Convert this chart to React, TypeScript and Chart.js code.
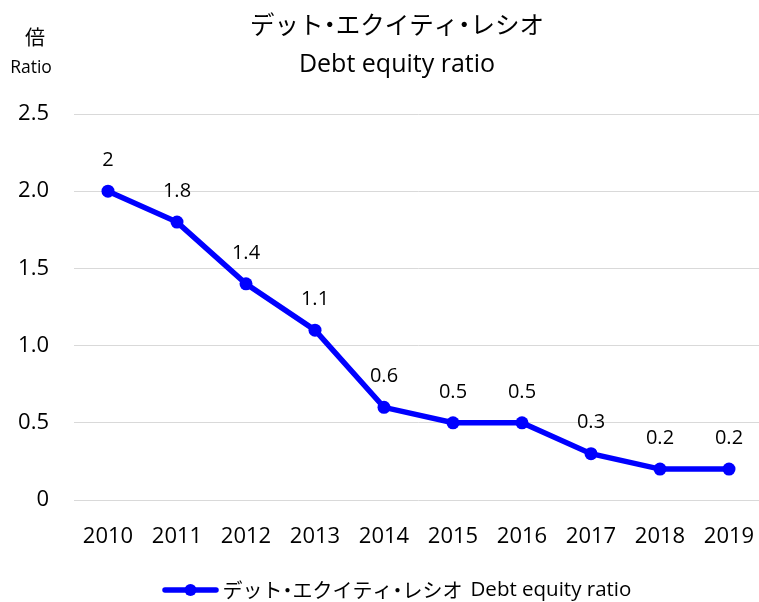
import React, { useEffect, useRef } from "react";
import { Chart, registerables } from "chart.js";

Chart.register(...registerables);

// ---- data ----
const years = ["2010", "2011", "2012", "2013", "2014", "2015", "2016", "2017", "2018", "2019"];
const ratios = [2, 1.8, 1.4, 1.1, 0.6, 0.5, 0.5, 0.3, 0.2, 0.2];
const titleJa = "デット・エクイティ・レシオ";
const titleEn = "Debt equity ratio";
const unitJa = "倍";
const unitEn = "Ratio";
const yMin = 0;
const yMax = 2.5;
const yStep = 0.5;

// ---- style ----
const W = 794;
const H = 602;
const LATIN = "'Open Sans', 'Noto Sans CJK JP', sans-serif";
const CJK = "'Noto Sans CJK JP', sans-serif";
const BLUE = "#0000FF";

// draw Japanese text with narrow (proportional) middle dots; returns width
function drawJa(ctx: CanvasRenderingContext2D, text: string, x: number, y: number, size: number, align: "left" | "center") {
  ctx.font = `${size}px ${CJK}`;
  const chars = Array.from(text);
  const advs = chars.map((ch) => (ch === "・" ? size * 0.5 : ctx.measureText(ch).width));
  const total = advs.reduce((a, b) => a + b, 0);
  let cx = align === "center" ? x - total / 2 : x;
  ctx.textAlign = "left";
  chars.forEach((ch, i) => {
    const w = ctx.measureText(ch).width;
    ctx.fillText(ch, cx + (advs[i] - w) / 2, y);
    cx += advs[i];
  });
  return total;
}

const textPlugin = {
  id: "customTexts",
  afterDatasetsDraw(chart: any) {
    const ctx = chart.ctx;
    const meta = chart.getDatasetMeta(0);
    ctx.save();
    ctx.fillStyle = "#000";
    ctx.font = `20px ${LATIN}`;
    ctx.textAlign = "center";
    ctx.textBaseline = "middle";
    meta.data.forEach((el: any, i: number) => {
      ctx.fillText(String(ratios[i]), el.x, el.y - 31);
    });
    ctx.restore();
  },
  afterDraw(chart: any) {
    const ctx: CanvasRenderingContext2D = chart.ctx;
    ctx.save();
    ctx.fillStyle = "#000";
    // title
    ctx.textBaseline = "middle";
    drawJa(ctx, titleJa, 397, 25, 24.5, "center");
    // subtitle
    ctx.textAlign = "center";
    ctx.textBaseline = "alphabetic";
    ctx.font = `25px ${LATIN}`;
    ctx.fillText(titleEn, 397, 72);
    // unit
    ctx.textBaseline = "middle";
    ctx.textAlign = "center";
    ctx.font = `20px ${CJK}`;
    ctx.fillText(unitJa, 35, 37);
    ctx.textBaseline = "alphabetic";
    ctx.font = `17.5px ${LATIN}`;
    ctx.fillText(unitEn, 31, 73);

    // legend
    const ly = 590;
    ctx.strokeStyle = BLUE;
    ctx.lineWidth = 5.5;
    ctx.lineCap = "round";
    ctx.beginPath();
    ctx.moveTo(165, ly);
    ctx.lineTo(216, ly);
    ctx.stroke();
    ctx.fillStyle = BLUE;
    ctx.beginPath();
    ctx.arc(190.5, ly, 6, 0, Math.PI * 2);
    ctx.fill();
    ctx.fillStyle = "#000";
    ctx.textBaseline = "middle";
    const jw = drawJa(ctx, titleJa, 222.5, ly, 20, "left");
    ctx.textAlign = "left";
    ctx.font = `20.5px ${LATIN}`;
    ctx.fillText(titleEn, 222.5 + jw + 8, ly);
    ctx.restore();
  },
};

export default function App() {
  const ref = useRef<HTMLCanvasElement | null>(null);

  useEffect(() => {
    if (!ref.current) return;
    const chart = new Chart(ref.current, {
      type: "line",
      data: {
        labels: years,
        datasets: [
          {
            label: `${titleJa} ${titleEn}`,
            data: ratios,
            borderColor: BLUE,
            backgroundColor: BLUE,
            borderWidth: 5.5,
            pointRadius: 6.5,
            pointHoverRadius: 6.5,
            pointBackgroundColor: BLUE,
            pointBorderColor: BLUE,
            pointBorderWidth: 0,
            tension: 0,
            fill: false,
          },
        ],
      },
      options: {
        responsive: false,
        animation: false,
        devicePixelRatio: 1,
        layout: { padding: { left: 0, right: 30.5, top: 114, bottom: 32 } },
        plugins: {
          title: { display: false },
          tooltip: { enabled: false },
          legend: { display: false },
        },
        scales: {
          x: {
            type: "category",
            offset: true,
            grid: { display: false },
            border: { display: false },
            ticks: {
              color: "#000",
              font: { family: LATIN, size: 22 },
              padding: 16,
              maxRotation: 0,
              autoSkip: false,
            },
            afterFit: (s: any) => {
              s.height = 70;
            },
          },
          y: {
            min: yMin,
            max: yMax,
            grid: { color: "#d9d9d9", lineWidth: 1, drawTicks: false },
            border: { display: false },
            ticks: {
              stepSize: yStep,
              color: "#000",
              font: { family: LATIN, size: 22 },
              padding: 24.5,
              callback: (v: any) => (Number(v) === 0 ? "0" : Number(v).toFixed(1)),
            },
            afterFit: (s: any) => {
              s.width = 73.5;
            },
          },
        },
      },
      plugins: [textPlugin],
    });
    return () => chart.destroy();
  }, []);

  return (
    <div
      style={{
        position: "fixed",
        left: 0,
        top: 0,
        width: 759,
        height: 602,
        overflow: "hidden",
        background: "#fff",
      }}
    >
      <canvas ref={ref} width={W} height={H} style={{ width: W, height: H, display: "block" }} />
    </div>
  );
}
